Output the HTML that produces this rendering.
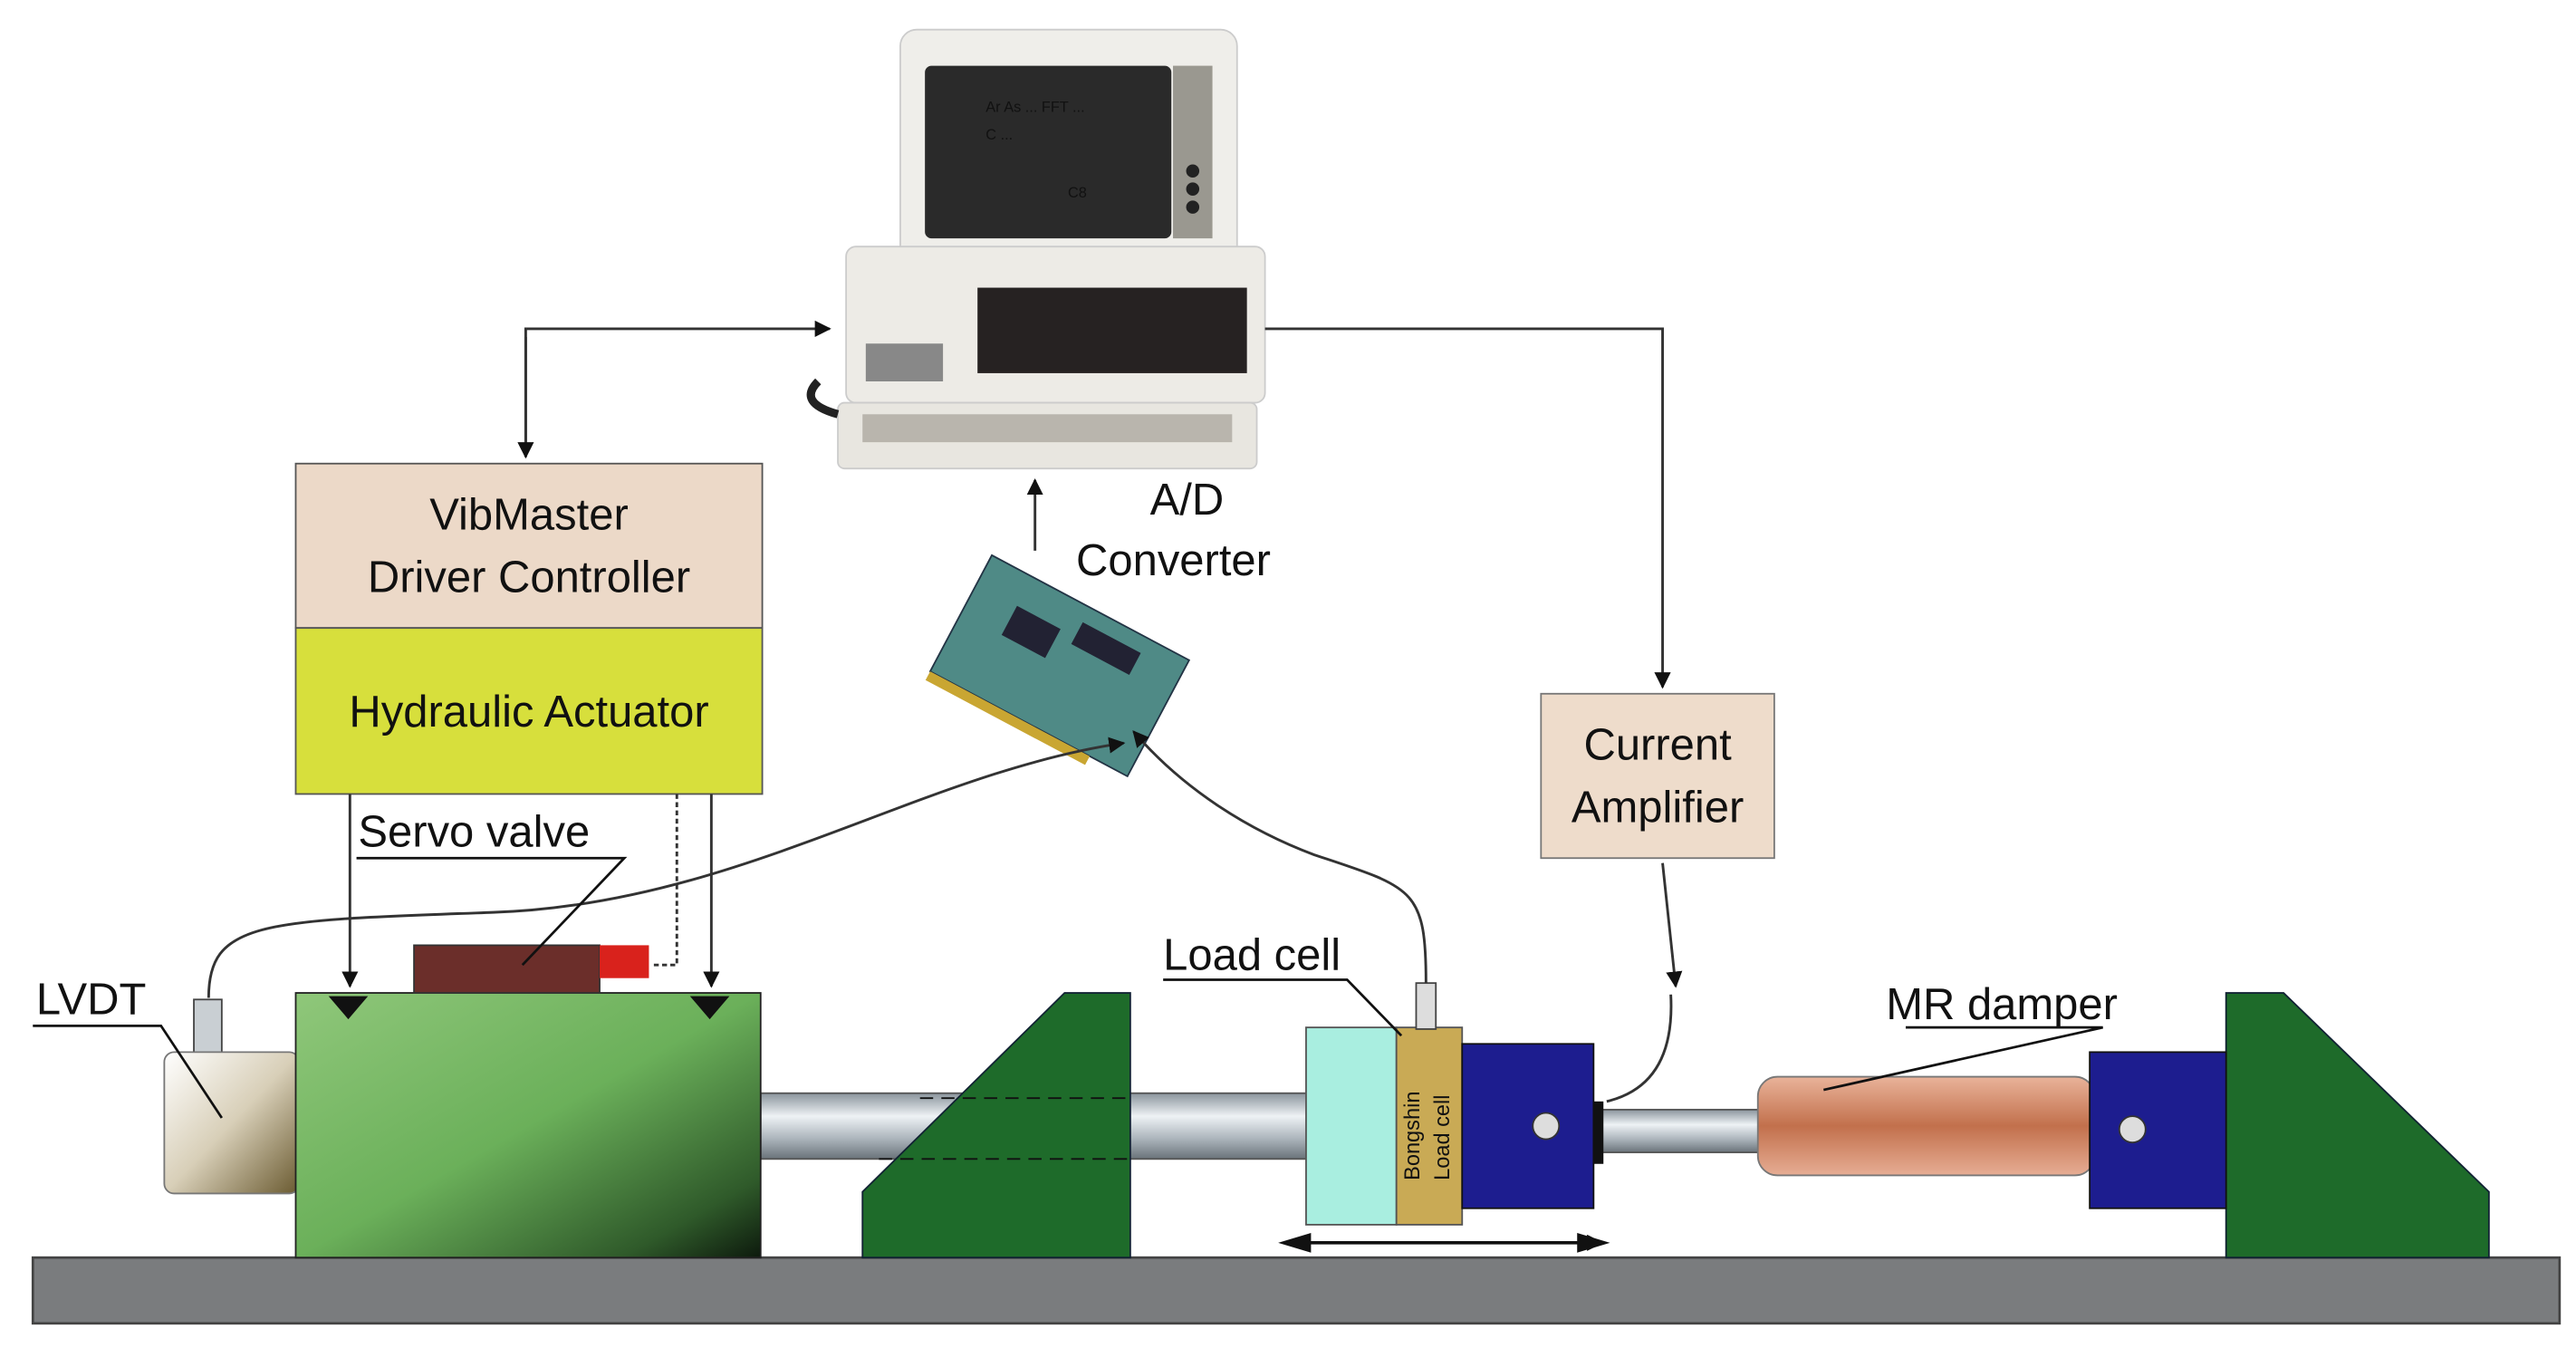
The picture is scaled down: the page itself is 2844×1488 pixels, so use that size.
<!DOCTYPE html>
<html><head><meta charset="utf-8"><style>
html,body{margin:0;padding:0;background:#fff;}
svg{display:block;}
text{font-family:"Liberation Sans",Arial,sans-serif;fill:#111;}
</style></head><body>
<svg width="2844" height="1488" viewBox="0 0 1568 820" preserveAspectRatio="none" xmlns="http://www.w3.org/2000/svg">
<defs>
<linearGradient id="gblk" x1="0" y1="0" x2="1" y2="1">
<stop offset="0" stop-color="#8fc77a"/><stop offset="0.5" stop-color="#6bb05a"/><stop offset="0.85" stop-color="#2f5a2a"/><stop offset="1" stop-color="#0d1a0d"/></linearGradient>
<linearGradient id="rod" x1="0" y1="0" x2="0" y2="1">
<stop offset="0" stop-color="#8a949c"/><stop offset="0.35" stop-color="#eef2f5"/><stop offset="0.7" stop-color="#aab3ba"/><stop offset="1" stop-color="#6a737a"/></linearGradient>
<linearGradient id="mr" x1="0" y1="0" x2="0" y2="1">
<stop offset="0" stop-color="#e9b39a"/><stop offset="0.5" stop-color="#c2704c"/><stop offset="1" stop-color="#e6ad94"/></linearGradient>
<linearGradient id="lv" x1="0" y1="0" x2="1" y2="1">
<stop offset="0" stop-color="#fff"/><stop offset="0.5" stop-color="#d8cfb8"/><stop offset="1" stop-color="#6a5a30"/></linearGradient>
<marker id="ah" markerWidth="10" markerHeight="10" refX="9" refY="5" orient="auto" markerUnits="userSpaceOnUse"><path d="M0,0 L10,5 L0,10 z" fill="#111"/></marker>
</defs>

<!-- ground -->
<rect x="20" y="765" width="1538" height="40" fill="#7a7c7e" stroke="#444" stroke-width="1.5"/>

<!-- rods -->
<rect x="463" y="665" width="337" height="40" fill="url(#rod)" stroke="#555"/>
<rect x="970" y="675" width="105" height="26" fill="url(#rod)" stroke="#555"/>

<!-- left green support -->
<path d="M648,604 L688,604 L688,765 L525,765 L525,725 Z" fill="#1e6b2a" stroke="#123" stroke-width="1"/>
<line x1="560" y1="668" x2="688" y2="668" stroke="#111" stroke-dasharray="8,5"/>
<line x1="535" y1="705" x2="688" y2="705" stroke="#111" stroke-dasharray="8,5"/>
<!-- right green support -->
<path d="M1355,604 L1390,604 L1515,725 L1515,765 L1355,765 Z" fill="#1e6b2a" stroke="#123"/>

<!-- LVDT -->
<rect x="118" y="608" width="17" height="35" fill="#c9cfd3" stroke="#444"/>
<rect x="100" y="640" width="82" height="86" rx="6" fill="url(#lv)" stroke="#777"/>
<!-- green block -->
<rect x="180" y="604" width="283" height="161" fill="url(#gblk)" stroke="#222"/>
<path d="M200,606 L212,620 L224,606Z M420,606 L432,620 L444,606Z" fill="#111"/>
<!-- servo valve -->
<rect x="252" y="575" width="113" height="29" fill="#6b2e2a" stroke="#333"/>
<rect x="365" y="575" width="30" height="20" fill="#d9221c"/>

<!-- load cell assembly -->
<rect x="795" y="625" width="55" height="120" fill="#a9eee0" stroke="#555"/>
<rect x="850" y="625" width="40" height="120" fill="#c9aa55" stroke="#555"/>
<rect x="862" y="598" width="12" height="28" fill="#ddd" stroke="#444"/>
<text transform="translate(864,718) rotate(-90)" font-size="13">Bongshin</text>
<text transform="translate(882,718) rotate(-90)" font-size="13">Load cell</text>
<rect x="890" y="635" width="80" height="100" fill="#1d1d8f" stroke="#111"/>
<circle cx="941" cy="685" r="8" fill="#ddd" stroke="#333"/>
<rect x="970" y="670" width="6" height="38" fill="#111"/>

<!-- MR damper -->
<rect x="1070" y="655" width="205" height="60" rx="12" fill="url(#mr)" stroke="#777"/>
<rect x="1272" y="640" width="83" height="95" fill="#1d1d8f" stroke="#111"/>
<circle cx="1298" cy="687" r="8" fill="#ddd" stroke="#333"/>

<!-- bidirectional arrow -->
<line x1="785" y1="756" x2="975" y2="756" stroke="#111" stroke-width="2" marker-end="url(#ah)" marker-start="url(#ah2)"/>
<path d="M778,756 L798,750 L798,762Z M980,756 L960,750 L960,762Z" fill="#111"/>

<!-- boxes -->
<rect x="180" y="282" width="284" height="100" fill="#ecd9c8" stroke="#555"/>
<text x="322" y="322" font-size="27" text-anchor="middle">VibMaster</text>
<text x="322" y="360" font-size="27" text-anchor="middle">Driver Controller</text>
<rect x="180" y="382" width="284" height="101" fill="#d7df3c" stroke="#555"/>
<text x="322" y="442" font-size="27" text-anchor="middle">Hydraulic Actuator</text>
<rect x="938" y="422" width="142" height="100" fill="#eedccb" stroke="#777"/>
<text x="1009" y="462" font-size="27" text-anchor="middle">Current</text>
<text x="1009" y="500" font-size="27" text-anchor="middle">Amplifier</text>

<!-- computer -->
<rect x="548" y="18" width="205" height="146" rx="10" fill="#efeeea" stroke="#ccc"/>
<rect x="563" y="40" width="150" height="105" rx="4" fill="#2a2a2a"/>
<rect x="714" y="40" width="24" height="105" fill="#9a9890"/>
<circle cx="726" cy="104" r="4" fill="#222"/><circle cx="726" cy="115" r="4" fill="#222"/><circle cx="726" cy="126" r="4" fill="#222"/>
<g fill="#ccc" font-size="9"><text x="600" y="68">Ar As  ...  FFT  ...</text><text x="600" y="85">C ...</text><text x="650" y="120">C8</text></g>
<rect x="515" y="150" width="255" height="95" rx="6" fill="#edebe6" stroke="#ccc"/>
<rect x="595" y="175" width="164" height="52" fill="#262222"/>
<rect x="527" y="209" width="47" height="23" fill="#888"/>
<rect x="510" y="245" width="255" height="40" rx="4" fill="#e8e6e0" stroke="#ccc"/>
<rect x="525" y="252" width="225" height="17" fill="#b9b5ad"/>
<path d="M498,232 Q485,245 510,252" stroke="#222" stroke-width="5" fill="none"/>

<!-- A/D card -->
<g transform="translate(645,405) rotate(28)">
<rect x="-68" y="-40" width="136" height="80" fill="#4f8a86" stroke="#234"/>
<rect x="-40" y="-20" width="30" height="20" fill="#223"/>
<rect x="0" y="-30" width="40" height="15" fill="#223"/>
<rect x="-68" y="40" width="110" height="6" fill="#c9a632"/>
</g>
<text x="700" y="313" font-size="27">A/D</text>
<text x="655" y="350" font-size="27">Converter</text>

<!-- connectors -->
<g stroke="#333" stroke-width="1.6" fill="none">
<path d="M320,278 L320,200 L505,200" marker-end="url(#ah)"/>
<path d="M320,205 L320,278" marker-end="url(#ah)"/>
<path d="M630,335 L630,292" marker-end="url(#ah)"/>
<path d="M770,200 L1012,200 L1012,418" marker-end="url(#ah)"/>
<path d="M1012,525 L1020,600" marker-end="url(#ah)"/>
<path d="M1017,605 Q1020,660 978,670"/>
<path d="M213,483 L213,600" marker-end="url(#ah)"/>
<path d="M433,483 L433,600" marker-end="url(#ah)"/>
<path d="M412,483 L412,587 L396,587" stroke-dasharray="3,2"/>
<path d="M127,607 C127,560 160,560 300,555 C450,550 560,470 684,452" marker-end="url(#ah)"/>
<path d="M868,598 C868,540 860,540 800,520 C760,505 720,480 690,445" marker-end="url(#ah)"/>
</g>
<!-- leader lines -->
<g stroke="#111" stroke-width="1.5" fill="none">
<path d="M217,522 L380,522 L318,587"/>
<path d="M20,624 L98,624 L135,680"/>
<path d="M708,596 L820,596 L853,630"/>
<path d="M1160,625 L1280,625 L1110,663"/>
</g>
<text x="218" y="515" font-size="27">Servo valve</text>
<text x="22" y="617" font-size="27">LVDT</text>
<text x="708" y="590" font-size="27">Load cell</text>
<text x="1148" y="620" font-size="27">MR damper</text>
</svg>
</body></html>
